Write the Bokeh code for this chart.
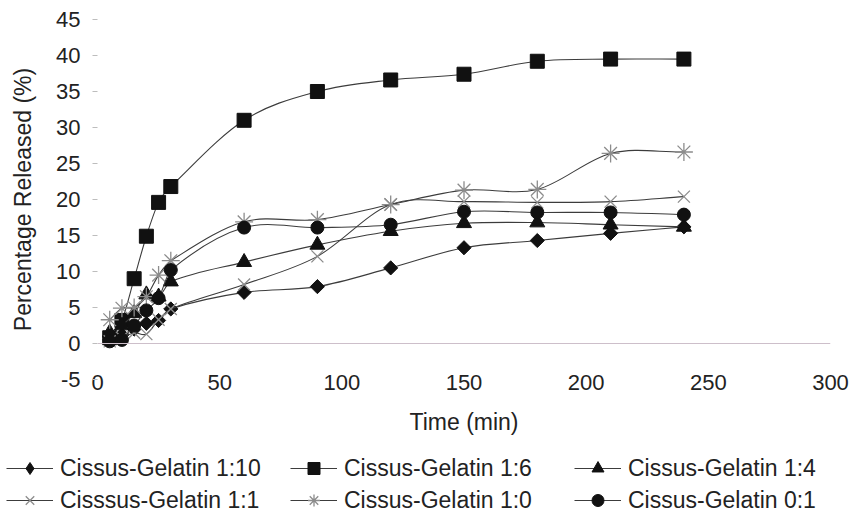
from bokeh.plotting import figure
from bokeh.layouts import column
from bokeh.models import Range1d, Span, Legend, LegendItem, FixedTicker, PrintfTickFormatter
from bokeh.embed import file_html
from bokeh.resources import INLINE

# ---- data ----
time_min = [5, 10, 15, 20, 25, 30, 60, 90, 120, 150, 180, 210, 240]
cg_1_10 = [0.5, 1.2, 2.0, 2.8, 3.2, 4.8, 7.1, 7.9, 10.5, 13.3, 14.3, 15.3, 16.2]
cg_1_6 = [0.8, 3.2, 9.0, 14.9, 19.6, 21.8, 31.0, 35.0, 36.6, 37.4, 39.2, 39.5, 39.5]
cg_1_4 = [1.5, 2.5, 4.2, 6.8, 6.5, 8.6, 11.3, 13.7, 15.6, 16.7, 16.8, 16.5, 16.2]
cg_1_1 = [0.3, 0.8, 1.5, 1.3, 3.3, 4.8, 8.2, 12.1, 19.3, 19.7, 19.6, 19.7, 20.4]
cg_1_0 = [3.3, 4.9, 5.0, 6.5, 9.5, 11.5, 16.9, 17.2, 19.3, 21.3, 21.4, 26.4, 26.6]
cg_0_1 = [0.3, 0.5, 2.5, 4.6, 6.3, 10.2, 16.1, 16.1, 16.5, 18.3, 18.2, 18.2, 17.9]

series_names = ["Cissus-Gelatin 1:10", "Cissus-Gelatin 1:6", "Cissus-Gelatin 1:4",
                "Cisssus-Gelatin 1:1", "Cissus-Gelatin 1:0", "Cissus-Gelatin 0:1"]
series_values = [cg_1_10, cg_1_6, cg_1_4, cg_1_1, cg_1_0, cg_0_1]

x_ticks = [0, 50, 100, 150, 200, 250, 300]
y_ticks = [-5, 0, 5, 10, 15, 20, 25, 30, 35, 40, 45]

FONT = "Liberation Sans"
TXT = "#222222"
LINE = "#3c3c3c"
MARK = "#111111"
XGRAY = "#8c8c8c"

marker_styles = [
    dict(marker="square", size=10, angle=0.785398, fill_color=MARK, line_color=MARK),
    dict(marker="square", size=14, fill_color=MARK, line_color=MARK),
    dict(marker="triangle", size=15, fill_color=MARK, line_color=MARK),
    dict(marker="x", size=17, line_color=XGRAY, line_width=1.3),
    dict(marker="asterisk", size=18, line_color=XGRAY, line_width=1.3),
    dict(marker="circle", size=13, fill_color=MARK, line_color=MARK),
]
# legend samples (the legend does not rotate markers, so use a diamond there)
legend_styles = [dict(ms) for ms in marker_styles]
legend_styles[0] = dict(marker="diamond", size=14, fill_color=MARK, line_color=MARK)


def smooth_segments(xs, ys):
    """Cubic Hermite (Catmull-Rom slopes) segments as Bezier control points."""
    n = len(xs)
    m = []
    for i in range(n):
        a = max(i - 1, 0)
        b = min(i + 1, n - 1)
        m.append((ys[b] - ys[a]) / (xs[b] - xs[a]))
    x0, y0, x1, y1, cx0, cy0, cx1, cy1 = [], [], [], [], [], [], [], []
    for i in range(n - 1):
        dx = xs[i + 1] - xs[i]
        x0.append(xs[i]); y0.append(ys[i])
        x1.append(xs[i + 1]); y1.append(ys[i + 1])
        cx0.append(xs[i] + dx / 3); cy0.append(ys[i] + m[i] * dx / 3)
        cx1.append(xs[i + 1] - dx / 3); cy1.append(ys[i + 1] - m[i + 1] * dx / 3)
    return dict(x0=x0, y0=y0, x1=x1, y1=y1, cx0=cx0, cy0=cy0, cx1=cx1, cy1=cy1)


# ---------------- main chart ----------------
p = figure(width=856, height=440, output_backend="svg", toolbar_location=None,
           x_range=Range1d(0, 300), y_range=Range1d(-5, 45),
           min_border_left=97, min_border_right=26, min_border_top=19, min_border_bottom=61)
p.outline_line_color = None
p.xgrid.visible = False
p.ygrid.visible = False
p.background_fill_color = "white"
p.border_fill_color = "white"
p.frame_align = False

# x axis line at y = 0 (Excel style)
p.add_layout(Span(location=0, dimension="width", line_color="#cdbfca", line_width=1.2))

for vals, ms in zip(series_values, marker_styles):
    seg = smooth_segments(time_min, vals)
    p.bezier(line_color=LINE, line_width=1.1, **seg)
    p.scatter(time_min, vals, **ms)

xa = p.xaxis[0]
xa.ticker = FixedTicker(ticks=x_ticks)
xa.axis_line_color = None
xa.major_tick_line_color = None
xa.minor_tick_line_color = None
xa.major_label_standoff = -11
xa.major_label_text_font = FONT
xa.major_label_text_font_size = "22px"
xa.major_label_text_color = TXT
xa.axis_label = "Time (min)"
xa.axis_label_text_font = FONT
xa.axis_label_text_font_size = "23px"
xa.axis_label_text_font_style = "normal"
xa.axis_label_text_color = TXT
xa.axis_label_standoff = 16

ya = p.yaxis[0]
ya.ticker = FixedTicker(ticks=y_ticks)
ya.formatter = PrintfTickFormatter(format="%d")
ya.axis_line_color = None
ya.major_tick_line_color = "#bdbdbd"
ya.major_tick_out = 5
ya.major_tick_in = 0
ya.minor_tick_line_color = None
ya.major_label_standoff = 12
ya.major_label_text_font = FONT
ya.major_label_text_font_size = "22px"
ya.major_label_text_color = TXT
ya.axis_label = "Percentage Released (%)"
ya.axis_label_text_font = FONT
ya.axis_label_text_font_size = "23px"
ya.axis_label_text_font_style = "normal"
ya.axis_label_text_color = TXT
ya.axis_label_standoff = 17

# ---------------- legend strip ----------------
lg = figure(width=856, height=88, output_backend="svg", toolbar_location=None,
            x_range=Range1d(0, 1), y_range=Range1d(0, 1),
            x_axis_location=None, y_axis_location=None,
            min_border_left=0, min_border_right=0, min_border_top=0, min_border_bottom=0)
lg.outline_line_color = None
lg.xgrid.visible = False
lg.ygrid.visible = False
lg.frame_align = False

items = []
for name, vals, ms in zip(series_names, series_values, legend_styles):
    # same data; lies outside this strip's range, so only the legend samples show
    l_r = lg.line(time_min, vals, line_color=LINE, line_width=1.1)
    s_r = lg.scatter(time_min, vals, **ms)
    items.append(LegendItem(label=name, renderers=[l_r, s_r]))

legend = Legend(items=items, orientation="horizontal", ncols=3,
                location=(6, 13),
                glyph_width=47, glyph_height=30, label_height=30, label_width=228,
                label_standoff=7, spacing=2, padding=0, margin=0,
                border_line_color=None, background_fill_alpha=0,
                label_text_font=FONT, label_text_font_size="23px", label_text_color=TXT)
lg.add_layout(legend, "center")

open("out.html", "w").write(file_html(column(p, lg, spacing=0), INLINE))
